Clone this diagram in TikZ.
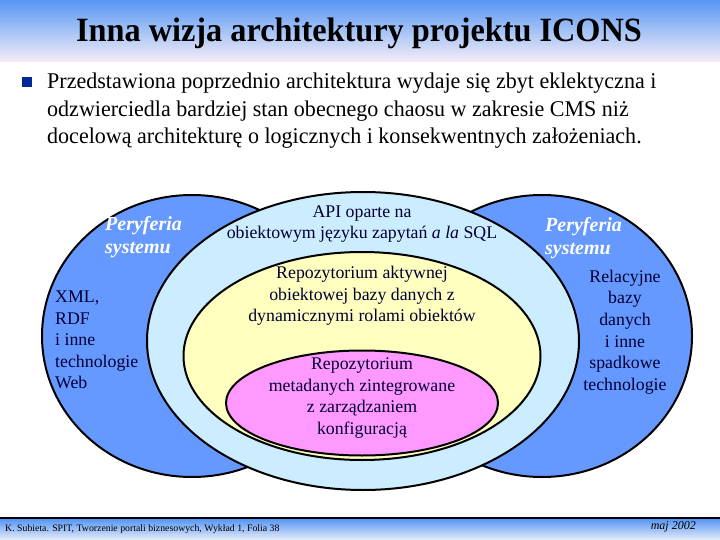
\documentclass[tikz,border=0pt]{standalone}
\usepackage{fontspec}
\setmainfont{Liberation Serif}
\usetikzlibrary{shapes.geometric}
\definecolor{periph}{RGB}{102,153,255}
\definecolor{apiblue}{RGB}{204,236,255}
\definecolor{repoyel}{RGB}{255,255,192}
\definecolor{metapink}{RGB}{255,153,255}
\definecolor{navytxt}{RGB}{0,0,51}
\definecolor{bulletblue}{RGB}{0,40,150}
\definecolor{bandblue}{RGB}{88,150,245}
\definecolor{bandlight}{RGB}{246,236,248}
\tikzset{
  ring/.style={ellipse, draw=black, line width=2pt, inner sep=0pt},
  etext/.style={font=\fontsize{17.8}{21.7}\selectfont, text=navytxt, align=center, inner sep=0pt},
  ltext/.style={font=\fontsize{17.8}{21.4}\selectfont, text=navytxt, align=left, inner sep=0pt, anchor=north west},
  pertext/.style={font=\fontsize{20}{23}\selectfont\bfseries\itshape, text=white, align=left, inner sep=0pt, anchor=north west},
}
\begin{document}
\begin{tikzpicture}[x=1pt,y=-1pt]
\useasboundingbox (0,0) rectangle (720,540);
% title band
\shade[top color=bandblue, bottom color=bandlight, middle color={rgb,255:red,165;green,195;blue,245}] (0,0) rectangle (720,62);
\node[font=\fontsize{34}{40}\selectfont\bfseries, xscale=0.95, inner sep=0pt] (title) at (359,33) {Inna wizja architektury projektu ICONS};
% bullet
\node[fill=bulletblue, minimum size=9.5pt, inner sep=0pt] (bul) at (27,82) {};
\node[font=\fontsize{22.5}{27.3}\selectfont, align=left, anchor=north west, inner sep=0pt, xscale=0.98] (body) at (47,73)
{Przedstawiona poprzednio architektura wydaje się zbyt eklektyczna i\\
odzwierciedla bardziej stan obecnego chaosu w zakresie CMS niż\\
docelową architekturę o logicznych i konsekwentnych założeniach.};
% ellipses
\node[ring, fill=periph, minimum width=300pt, minimum height=282pt] (lper) at (192,336) {};
\node[ring, fill=periph, minimum width=300pt, minimum height=282pt] (rper) at (542,336) {};
\node[ring, fill=apiblue, minimum width=432pt, minimum height=298pt] (api) at (363,341) {};
\node[ring, fill=repoyel, minimum width=357pt, minimum height=208pt] (repo) at (362,356) {};
\node[ring, fill=metapink, minimum width=272pt, minimum height=105pt] (meta) at (362,403) {};
% texts
\node[pertext] (lpt) at (105,216) {Peryferia\\systemu};
\node[pertext] (rpt) at (545,217) {Peryferia\\systemu};
\node[ltext] (ltech) at (55,291) {XML,\\RDF\\i inne\\technologie\\Web};
\node[etext] (rtech) at (625,332) {Relacyjne\\bazy\\danych\\i inne\\spadkowe\\technologie};
\node[etext] (apit) at (362,224) {API oparte na\\obiektowym języku zapytań {\itshape a la} SQL};
\node[etext] (repot) at (362,296) {Repozytorium aktywnej\\obiektowej bazy danych z\\dynamicznymi rolami obiektów};
\node[etext] (metat) at (362,398) {Repozytorium\\metadanych zintegrowane\\z zarządzaniem\\konfiguracją};
% footer
\shade[top color=bandblue, bottom color={rgb,255:red,232;green,238;blue,250}] (0,519) rectangle (720,540);
\draw[line width=2.5pt] (0,518) -- (720,518);
\node[font=\fontsize{9.8}{11}\selectfont, anchor=west, inner sep=0pt] (foot) at (5,529) {K. Subieta. SPIT, Tworzenie portali biznesowych, Wykład 1, Folia 38};
\node[font=\fontsize{12}{13}\selectfont\itshape, anchor=east, inner sep=0pt] (date) at (696,527) {maj 2002};
\end{tikzpicture}
\end{document}
